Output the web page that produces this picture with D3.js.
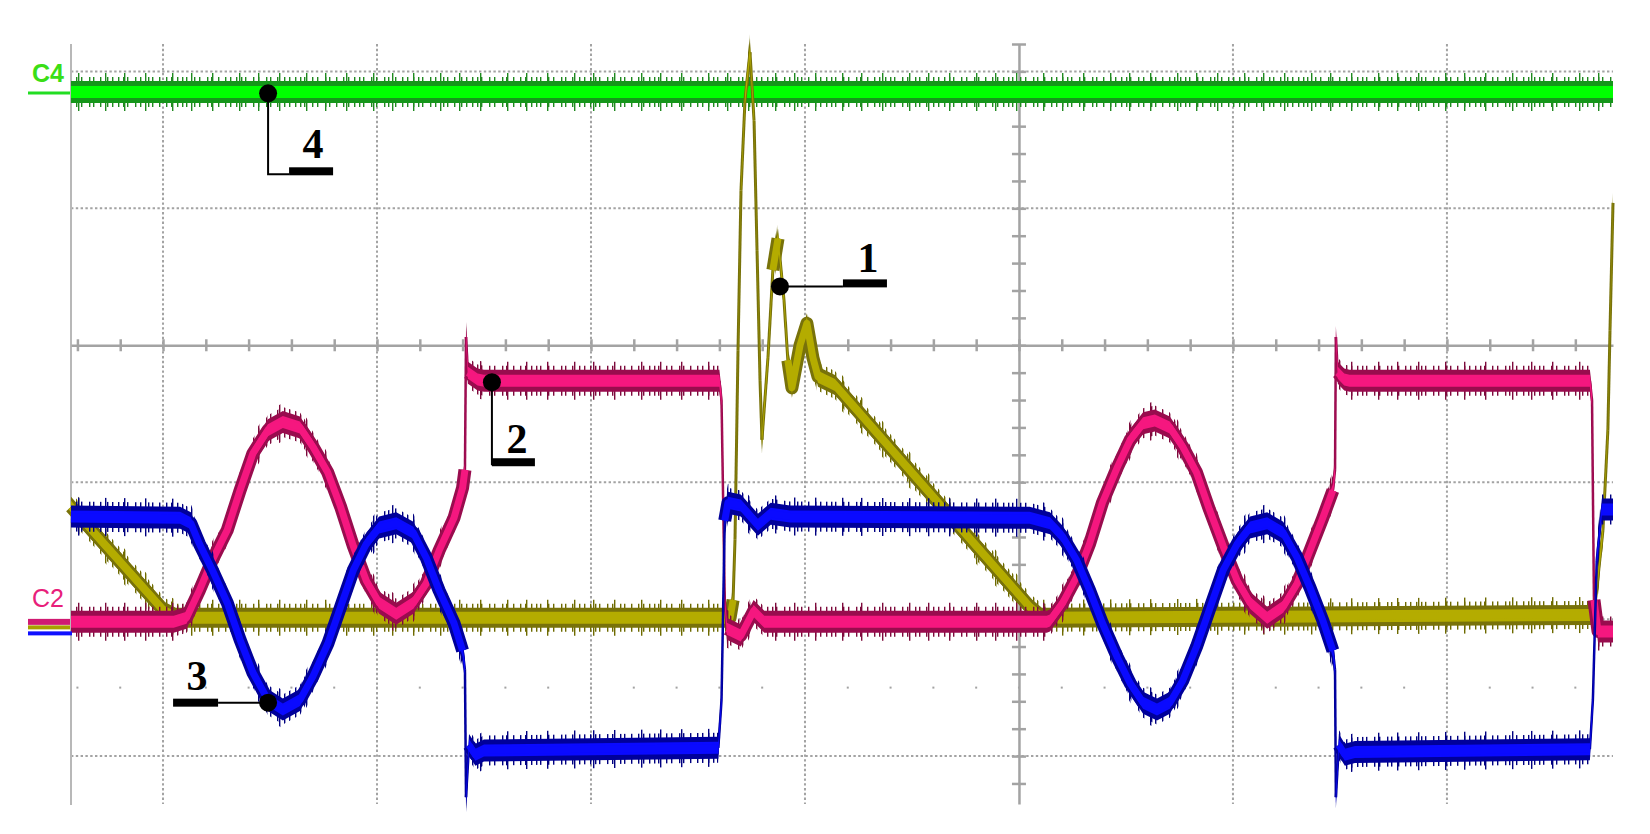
<!DOCTYPE html>
<html>
<head>
<meta charset="utf-8">
<script src="https://cdn.jsdelivr.net/npm/d3@7"></script>
<style>
  body { margin: 0; background: #fff; }
  svg { display: block; }
</style>
</head>
<body>
<div id="scope"></div>
<script>
// values, in divisions: [time div (0 = centre), volt div (0 = centre)]
var ch1 = [[-4.43,-1.18],[-3.99,-1.95],[-3.94,-1.99],[-1.35,-1.99],[-1.336,-1.86],[-1.327,-1.42],[-1.313,-0.04],
  [-1.299,1.13],[-1.28,1.80],[-1.257,2.14],[-1.238,1.64],[-1.224,0.69],[-1.21,-0.26],[-1.201,-0.69],[-1.173,-0.09],
  [-1.15,0.55],[-1.126,0.78],[-1.098,0.33],[-1.08,-0.11],[-1.061,-0.31],[-1.023,0.00],[-0.991,0.16],[-0.963,-0.09],
  [-0.939,-0.23],[-0.86,-0.29],[0.061,-1.93],[0.107,-1.99],[2.687,-1.97],[2.729,-1.35],[2.752,-0.62],[2.762,0.11],[2.776,1.04]];

var ch2 = [[-4.43,-2.02],[-3.95,-2.02],[-3.89,-1.99],[-3.83,-1.79],[-3.77,-1.57],[-3.70,-1.35],[-3.64,-1.06],
  [-3.58,-0.79],[-3.51,-0.62],[-3.44,-0.56],[-3.36,-0.60],[-3.30,-0.74],[-3.23,-0.93],[-3.17,-1.18],[-3.11,-1.47],
  [-3.05,-1.72],[-2.99,-1.88],[-2.91,-1.96],[-2.83,-1.88],[-2.77,-1.74],[-2.71,-1.50],[-2.64,-1.26],[-2.60,-1.04],
  [-2.589,-0.91],[-2.584,0.06],[-2.575,-0.20],[-2.53,-0.25],[-2.50,-0.26],[-1.40,-0.26],[-1.39,-0.40],[-1.375,-1.86],
  [-1.365,-2.07],[-1.30,-2.12],[-1.24,-1.94],[-1.19,-2.02],[0.13,-2.02],[0.145,-2.01],[0.205,-1.88],[0.27,-1.69],
  [0.33,-1.45],[0.39,-1.15],[0.46,-0.89],[0.52,-0.69],[0.58,-0.57],[0.635,-0.55],[0.705,-0.60],[0.765,-0.74],
  [0.83,-0.93],[0.89,-1.20],[0.955,-1.47],[1.02,-1.72],[1.08,-1.88],[1.16,-1.99],[1.235,-1.91],[1.30,-1.74],
  [1.36,-1.50],[1.42,-1.26],[1.467,-1.06],[1.477,-0.91],[1.481,0.06],[1.49,-0.20],[1.52,-0.25],[1.545,-0.26],
  [2.668,-0.26],[2.678,-0.40],[2.687,-1.86],[2.706,-2.09],[2.776,-2.09]];

var ch3 = [[-4.43,-1.25],[-3.92,-1.26],[-3.87,-1.30],[-3.83,-1.45],[-3.77,-1.64],[-3.70,-1.88],[-3.64,-2.15],
  [-3.58,-2.39],[-3.51,-2.59],[-3.44,-2.66],[-3.36,-2.59],[-3.30,-2.42],[-3.23,-2.18],[-3.17,-1.91],[-3.11,-1.64],
  [-3.05,-1.45],[-2.99,-1.33],[-2.91,-1.30],[-2.83,-1.37],[-2.77,-1.55],[-2.71,-1.79],[-2.64,-2.03],[-2.60,-2.23],
  [-2.589,-2.37],[-2.584,-3.30],[-2.57,-2.92],[-2.54,-2.99],[-2.50,-2.96],[-1.405,-2.94],[-1.39,-2.59],[-1.375,-1.28],
  [-1.36,-1.15],[-1.30,-1.17],[-1.22,-1.31],[-1.16,-1.23],[-1.07,-1.25],[0.05,-1.26],[0.145,-1.30],[0.205,-1.40],
  [0.27,-1.57],[0.33,-1.79],[0.39,-2.03],[0.46,-2.28],[0.52,-2.47],[0.58,-2.61],[0.645,-2.66],[0.705,-2.61],
  [0.765,-2.45],[0.83,-2.20],[0.89,-1.93],[0.955,-1.64],[1.02,-1.45],[1.08,-1.33],[1.16,-1.30],[1.235,-1.37],
  [1.30,-1.55],[1.36,-1.77],[1.42,-2.01],[1.467,-2.23],[1.477,-2.37],[1.481,-3.30],[1.495,-2.92],[1.523,-2.99],
  [1.57,-2.97],[2.668,-2.95],[2.682,-2.59],[2.70,-1.57],[2.724,-1.20],[2.776,-1.20]];

var ch4 = [[-4.43,1.85],[2.776,1.85]];

var gridCols = [-4, -3, -2, -1, 1, 2];
var gridRows = [2, 1, -1, -2, -3];
var minorRow = -2.5;

// channel reference markers on the left edge
var refNames = ["C4", "C2"];
var refLevels = [1.85, -2.02];

// numbered callouts: which trace point they mark
var calloutText = ["1", "2", "3", "4"];
var calloutT = [-1.117, -2.463, -3.509, -3.509];
var calloutV = [0.43, -0.27, -2.61, 1.84];

var W = 1650, H = 834;
var gray = "#a3a3a3";

var x = d3.scaleLinear().domain([-4.43, 2.776]).range([71, 1613]);
var y = d3.scaleLinear().domain([2.2, -3.35]).range([44, 804]);

var svg = d3.select("#scope").append("svg").attr("width", W).attr("height", H);
svg.append("rect").attr("width", W).attr("height", H).attr("fill", "#fff");
var defs = svg.append("defs");

// dotted graticule
svg.selectAll(".gcol").data(gridCols).enter().append("line")
  .attr("x1", d => x(d)).attr("x2", d => x(d))
  .attr("y1", y(2.2)).attr("y2", y(-3.35))
  .attr("stroke", gray).attr("stroke-width", 2).attr("stroke-dasharray", "2.4 2.4");
svg.selectAll(".grow").data(gridRows).enter().append("line")
  .attr("x1", x(-4.43)).attr("x2", x(2.776))
  .attr("y1", d => y(d)).attr("y2", d => y(d))
  .attr("stroke", gray).attr("stroke-width", 2).attr("stroke-dasharray", "2.4 2.4");
var minorTicks = d3.range(-22, 14).map(k => k / 5);
svg.selectAll(".mdot").data(minorTicks).enter().append("rect")
  .attr("x", d => x(d) - 1).attr("y", y(minorRow) - 1)
  .attr("width", 2).attr("height", 2).attr("fill", gray);

// left frame line
svg.append("line").attr("x1", 71).attr("x2", 71).attr("y1", 44).attr("y2", 805)
  .attr("stroke", "#b8b8b8").attr("stroke-width", 2);

// centre cross with 1/5 div ticks
var gx = svg.append("g").attr("transform", "translate(0," + y(0) + ")")
  .call(d3.axisBottom(x).tickValues(minorTicks).tickSize(6).tickSizeOuter(0).tickFormat(""));
gx.selectAll(".tick line").attr("y1", -6);
var gy = svg.append("g").attr("transform", "translate(" + x(0) + ",0)")
  .call(d3.axisLeft(y).tickValues(d3.range(-16, 12).map(k => k / 5)).tickSize(7).tickSizeOuter(0).tickFormat(""));
gy.selectAll(".tick line").attr("x1", 7);
[gx, gy].forEach(function(g) {
  g.select(".domain").attr("stroke", gray).attr("stroke-width", 2.5);
  g.selectAll(".tick line").attr("stroke", gray).attr("stroke-width", 2.5);
});

// noise stripes for the trace bands
function stripes(id, color, period, xs) {
  var p = defs.append("pattern").attr("id", id).attr("patternUnits", "userSpaceOnUse")
    .attr("width", period).attr("height", 4);
  p.selectAll("rect").data(xs).enter().append("rect")
    .attr("x", d => d).attr("y", 0).attr("width", 1.4).attr("height", 4).attr("fill", color);
}

function band(h) {
  return d3.area().x(d => x(d[0])).y0(d => y(d[1]) + h).y1(d => y(d[1]) - h);
}
var line = d3.line().x(d => x(d[0])).y(d => y(d[1]));

function drawTrace(data, st) {
  var g = svg.append("g").attr("class", "trace " + st.id);
  stripes(st.id + "-near", st.spike, 59, [0, 5, 9, 17, 22, 30, 34, 41, 48, 53]);
  stripes(st.id + "-far", st.spike, 67, [11, 38, 57]);

  // slow stretches get a thick pen, fast edges a thin one
  var runs = [], fast = [], cur = [data[0]];
  for (var i = 1; i < data.length; i++) {
    var dx = Math.abs(x(data[i][0]) - x(data[i - 1][0]));
    var dy = Math.abs(y(data[i][1]) - y(data[i - 1][1]));
    if (dy > 8 * dx) {
      fast.push([data[i - 1], data[i]]);
      if (cur.length > 1) runs.push(cur);
      cur = [data[i]];
    } else cur.push(data[i]);
  }
  if (cur.length > 1) runs.push(cur);

  g.append("path").attr("d", band(st.h + 8)(data)).attr("fill", "url(#" + st.id + "-far)");
  g.append("path").attr("d", band(st.h + 4)(data)).attr("fill", "url(#" + st.id + "-near)");
  g.append("path").attr("d", band(st.h)(data)).attr("fill", st.dark);
  g.selectAll(".run-dark").data(runs).enter().append("path")
    .attr("d", line).attr("fill", "none").attr("stroke", st.dark)
    .attr("stroke-width", st.pen).attr("stroke-linejoin", "round").attr("stroke-linecap", "butt");
  g.selectAll(".edge").data(fast).enter().append("path")
    .attr("d", line).attr("fill", "none").attr("stroke", st.dark).attr("stroke-width", st.thin);
  g.append("path").attr("d", band(st.hc)(data)).attr("fill", st.core);
  g.selectAll(".run-core").data(runs).enter().append("path")
    .attr("d", line).attr("fill", "none").attr("stroke", st.core)
    .attr("stroke-width", st.pen - 6).attr("stroke-linejoin", "round").attr("stroke-linecap", "butt");
}

drawTrace(ch4, {id: "c4", core: "#00ff00", dark: "#15961a", spike: "#1f8a1f", h: 11, hc: 6, pen: 12, thin: 2});
drawTrace(ch1, {id: "c1", core: "#b4ac00", dark: "#78720a", spike: "#6e6a00", h: 10, hc: 6, pen: 13, thin: 3});
drawTrace(ch2, {id: "c2", core: "#f5177f", dark: "#990c4e", spike: "#7d0a3c", h: 11, hc: 6, pen: 13, thin: 2.5});
drawTrace(ch3, {id: "c3", core: "#0a0aff", dark: "#00009a", spike: "#000080", h: 11, hc: 6, pen: 13, thin: 2.5});

// reference markers
var c4y = y(refLevels[0]);
svg.append("line").attr("x1", 28).attr("x2", 70).attr("y1", c4y + 1).attr("y2", c4y + 1)
  .attr("stroke", "#22dd22").attr("stroke-width", 3);
svg.append("text").attr("x", 32).attr("y", c4y - 10).text(refNames[0])
  .attr("font-family", "Liberation Sans, Arial, sans-serif").attr("font-size", 25).attr("font-weight", "bold")
  .attr("fill", "#3ade16");
var c2y = y(refLevels[1]);
[["#d01a72", 0, 6, 70], ["#a8a000", 6.5, 4, 70], ["#1010ff", 12.5, 4, 72]].forEach(function(m) {
  svg.append("rect").attr("x", 28).attr("y", c2y - 3 + m[1]).attr("width", m[3] - 28).attr("height", m[2]).attr("fill", m[0]);
});
svg.append("text").attr("x", 32).attr("y", c2y - 15).text(refNames[1])
  .attr("font-family", "Liberation Sans, Arial, sans-serif").attr("font-size", 25)
  .attr("fill", "#e8207a");

// callout leaders: thin path, bar, and digit position, in px from the marked point
var leader = {
  "1": {path: [[0, 0], [63, 0]], bar: [63, 107, 1], txt: [88, -14]},
  "2": {path: [[0, 0], [0, 83]], bar: [0, 43, 84], txt: [25, 71]},
  "3": {path: [[0, 0], [-50, 0]], bar: [-95, -50, 4], txt: [-71, -13]},
  "4": {path: [[0, 0], [0, 81], [21, 81]], bar: [21, 65, 82], txt: [45, 65]}
};
calloutText.forEach(function(t, i) {
  var cx = x(calloutT[i]), cy = y(calloutV[i]), L = leader[t];
  var g = svg.append("g").attr("transform", "translate(" + cx + "," + cy + ")");
  g.append("path").attr("d", d3.line()(L.path)).attr("fill", "none").attr("stroke", "#000").attr("stroke-width", 2);
  g.append("rect").attr("x", L.bar[0]).attr("y", L.bar[2] - 8).attr("width", L.bar[1] - L.bar[0]).attr("height", 8).attr("fill", "#000");
  g.append("circle").attr("r", 9).attr("fill", "#000");
  g.append("text").attr("x", L.txt[0]).attr("y", L.txt[1]).attr("text-anchor", "middle").text(t)
    .attr("font-family", "Liberation Serif, Times New Roman, serif").attr("font-weight", "bold")
    .attr("font-size", 42).attr("fill", "#000");
});
</script>
</body>
</html>
